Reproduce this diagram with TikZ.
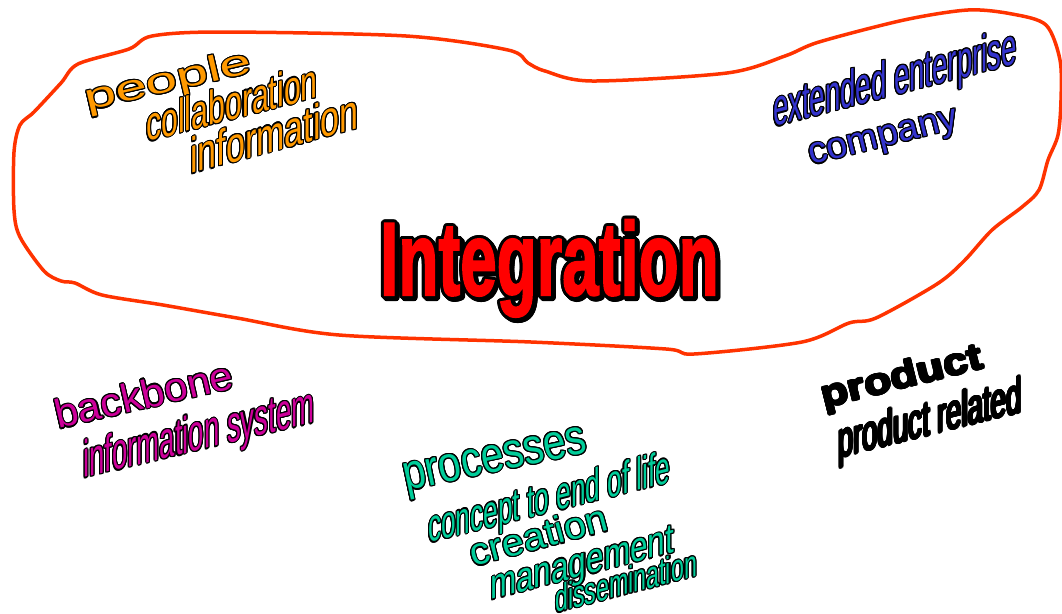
\documentclass[tikz,border=0pt]{standalone}
\usepackage{fontspec}
\setmainfont{Liberation Sans}
\newfontfamily\heavyfont[FakeBold=2]{Liberation Sans Bold}
\usepackage[copies]{contour}
\contournumber{16}
\contourlength{1.1pt}

\definecolor{wordOrange}{RGB}{255,153,0}
\definecolor{wordBlue}{RGB}{51,51,204}
\definecolor{wordPink}{RGB}{204,0,153}
\definecolor{wordGreen}{RGB}{0,204,153}
\definecolor{loopRed}{RGB}{255,51,0}

\newcommand{\wart}[2]{\contour{black}{\scalebox{#1}[1]{#2}}}

\begin{document}
\begin{tikzpicture}[x=1pt,y=-1pt,
  word/.style={anchor=base west,inner sep=0pt,transform shape},
  people word/.style={word,text=wordOrange},
  company word/.style={word,text=wordBlue},
  system word/.style={word,text=wordPink},
  process word/.style={word,text=wordGreen},
  product word/.style={word,text=black},
  fs/.style={font=\fontsize{#1}{#1}\selectfont}]
  \useasboundingbox (0,0) rectangle (1062,613);

  \draw[loopRed,line width=3.5pt,line join=round] plot[smooth cycle,tension=0.5] coordinates {
    (14,152) (20,125) (34,112) (61,83) (78,64) (129,49) (152,36) (220,32)
    (406,36) (508,50) (528,63) (545,71) (592,81) (727,73) (785,56) (819,42)
    (904,20) (968,10) (1012,14) (1046,25) (1060,60) (1061,100) (1058,135)
    (1048,160) (1039,190) (1022,207) (992,230) (964,261) (937,284) (876,318)
    (849,323) (802,342) (694,354) (666,349) (531,342) (339,335) (237,318)
    (163,305) (102,295) (75,283) (61,281) (44,271) (20,237) (14,210)};

  \node[word,text=black,fs=104] (integration shadow) at (382,297)
    {\heavyfont\contourlength{3pt}\wart{0.63}{Integration}};
  \node[word,text=red,fs=104] (integration) at (380,295)
    {\heavyfont\contourlength{3pt}\wart{0.63}{Integration}};

  \node[people word,fs=36,rotate=13] (people) at (87,111) {\wart{1.58}{people}};
  \node[people word,fs=48,yslant=0.26] (collaboration) at (146,142) {\wart{0.63}{collaboration}};
  \node[people word,fs=50,yslant=0.27] (information) at (190,174) {\wart{0.68}{information}};

  \node[company word,fs=52,yslant=0.26] (enterprise) at (773,127) {\wart{0.53}{extended enterprise}};
  \node[company word,fs=37,rotate=14] (company) at (811,165) {\wart{1.02}{company}};

  \node[system word,fs=40,rotate=13] (backbone) at (58,429) {\wart{1.05}{backbone}};
  \node[system word,fs=52,yslant=0.24] (infosystem) at (83,478) {\wart{0.53}{information system}};

  \node[product word,fs=37,rotate=14] (product) at (824,408) {\bfseries\wart{1.2}{product}};
  \node[product word,fs=50,yslant=0.25] (related) at (838,458) {\wart{0.55}{product related}};

  \node[process word,fs=50,rotate=12] (processes) at (406,491) {\wart{0.82}{processes}};
  \node[process word,fs=46,yslant=0.25] (lifecycle) at (428,543) {\wart{0.57}{concept to end of life}};
  \node[process word,fs=38,rotate=15] (creation) at (473,567) {\wart{1.05}{creation}};
  \node[process word,fs=42,yslant=0.26] (management) at (490,600) {\wart{0.75}{management}};
  \node[process word,fs=38,yslant=0.26] (dissemination) at (555,613) {\wart{0.61}{dissemination}};
\end{tikzpicture}
\end{document}
